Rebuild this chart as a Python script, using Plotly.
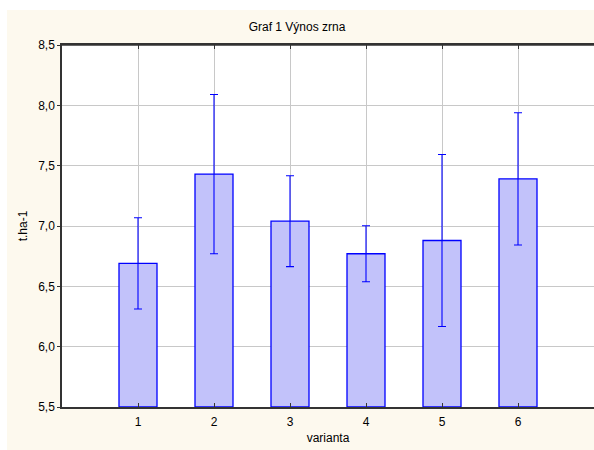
import plotly.graph_objects as go

categories = [1, 2, 3, 4, 5, 6]
means = [6.69, 7.43, 7.04, 6.77, 6.88, 7.39]
errors = [0.378, 0.66, 0.377, 0.232, 0.713, 0.548]
y_ticks = [5.5, 6.0, 6.5, 7.0, 7.5, 8.0, 8.5]

FONT = "Liberation Sans, Arial, sans-serif"
CREAM = "#FDF9EE"

W, H = 594, 450
L, T, B = 62, 45, 43
PW = W - L
PH = H - T - B

fig = go.Figure()
fig.add_trace(go.Bar(
    x=categories, y=[m - 5.5 for m in means], base=5.5,
    width=0.5,
    marker=dict(color="#C2C2FA", line=dict(color="#0000FF", width=1.3)),
    error_y=dict(type="data", array=errors, color="#0000FF", thickness=1.1, width=4),
    showlegend=False,
))

fig.update_layout(
    autosize=True,
    paper_bgcolor=CREAM, plot_bgcolor="white",
    margin=dict(l=L, r=0, t=T, b=B, pad=0),
    separators=", ",
    font=dict(family=FONT, size=12, color="black"),
    title=dict(text="Graf 1 Výnos zrna", x=0.5, xanchor="center", y=1 - 27 / H,
               yanchor="middle", font=dict(family=FONT, size=12, color="black")),
)
fig.update_xaxes(
    range=[0, 7], tickvals=categories, ticktext=[str(c) for c in categories],
    showgrid=True, gridcolor="#C8C8C8", gridwidth=1,
    showline=True, linecolor="#333333", linewidth=1.5, mirror="ticks",
    ticks="inside", ticklen=4, tickcolor="#333333", ticklabelstandoff=3,
    title=dict(text="varianta", font=dict(family=FONT, size=12), standoff=5),
    zeroline=False,
)
fig.update_yaxes(
    range=[5.5, 8.5], tickvals=y_ticks, tickformat=".1f",
    showgrid=True, gridcolor="#C8C8C8", gridwidth=1,
    showline=True, linecolor="#333333", linewidth=1.5,
    ticks="outside", ticklen=3, tickcolor="#333333",
    title=dict(text="t.ha-1", font=dict(family=FONT, size=12), standoff=8),
    zeroline=False,
)
# top border line
fig.add_shape(type="line", xref="paper", yref="paper", x0=0, x1=1, y0=1, y1=1,
              line=dict(color="#333333", width=1.5))
# white strips outside the cream panel (top and left)
fig.add_shape(type="rect", xref="paper", yref="paper", x0=-0.2, x1=1.1,
              y0=1 + (T - 10) / PH, y1=1.2, fillcolor="white", line=dict(width=0), layer="above")
fig.add_shape(type="rect", xref="paper", yref="paper", x0=-0.2, x1=-(L - 7) / PW,
              y0=-0.2, y1=1.2, fillcolor="white", line=dict(width=0), layer="above")

fig.write_html(
    "out.html",
    config={"displayModeBar": False, "responsive": True},
    default_width="100vw",
    default_height="100vh",
    post_script=(
        "document.body.style.margin='0';"
        "document.body.style.overflow='hidden';"
        "document.documentElement.style.overflow='hidden';"
        "document.body.style.background='" + CREAM + "';"
    ),
)
